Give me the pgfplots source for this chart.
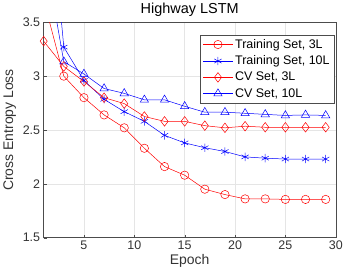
\documentclass[border=0pt]{standalone}
\usepackage{pgfplots}
\pgfplotsset{compat=1.18}
\usepackage{fontspec}
\setmainfont{Liberation Sans}
\begin{document}
\begin{tikzpicture}
\begin{axis}[
  scale only axis,
  width=293pt, height=216pt,
  xmin=1, xmax=30, ymin=1.5, ymax=3.5,
  xtick={5,10,15,20,25,30},
  ytick={1.5,2,2.5,3,3.5},
  yticklabels={1.5,2,2.5,3,3.5},
  /pgf/number format/assume math mode=true,
  tick label style={font=\fontsize{12.5}{14}\selectfont, text=black!80},
  label style={font=\fontsize{14}{16}\selectfont, text=black!80},
  title style={font=\fontsize{14.5}{16}\selectfont, yshift=-4pt},
  title={Highway LSTM},
  xlabel={Epoch},
  ylabel={Cross Entropy Loss},
  xlabel style={yshift=2pt},
  ylabel style={yshift=0pt},
  grid=major,
  major grid style={gray!20, line width=0.5pt},
  axis line style={black!70, line width=0.5pt},
  tick style={black!70},
  tick align=inside,
  major tick length=3pt,
  xtick pos=bottom, ytick pos=left,
  clip=true,
  legend style={at={(0.995,0.943)}, anchor=north east, font=\fontsize{12.5}{14}\selectfont,
    draw=black!70, row sep=2pt, inner sep=2.5pt, cells={anchor=west}},
  legend image code/.code={\draw[#1] (0pt,0pt) -- (30pt,0pt); \draw[#1, only marks] plot coordinates {(15pt,0pt)};},
]
\addplot[red, line width=0.5pt, mark=o, mark size=4.2pt] coordinates {
(1,3.71) (3,3.00) (5,2.80) (7,2.64) (9,2.52) (11,2.33) (13,2.16) (15,2.08) (17,1.95) (19,1.90) (21,1.86) (23,1.86) (25,1.855) (27,1.855) (29,1.855)};
\addlegendentry{Training Set, 3L}
\addplot[blue, line width=0.5pt, mark=asterisk, mark size=4.2pt] coordinates {
(1,5.3) (3,3.27) (5,2.96) (7,2.785) (9,2.67) (11,2.58) (13,2.45) (15,2.38) (17,2.335) (19,2.30) (21,2.25) (23,2.238) (25,2.23) (27,2.23) (29,2.23)};
\addlegendentry{Training Set, 10L}
\addplot[red, line width=0.5pt, mark=diamond, mark size=4.8pt] coordinates {
(1,3.325) (3,3.09) (5,2.95) (7,2.80) (9,2.745) (11,2.625) (13,2.58) (15,2.58) (17,2.54) (19,2.52) (21,2.535) (23,2.525) (25,2.525) (27,2.525) (29,2.525)};
\addlegendentry{CV Set, 3L}
\addplot[blue, line width=0.5pt, mark=triangle, mark size=4.8pt] coordinates {
(1,4.2) (3,3.135) (5,3.02) (7,2.885) (9,2.84) (11,2.78) (13,2.78) (15,2.72) (17,2.665) (19,2.665) (21,2.655) (23,2.645) (25,2.635) (27,2.64) (29,2.635)};
\addlegendentry{CV Set, 10L}
\end{axis}
\end{tikzpicture}
\end{document}
